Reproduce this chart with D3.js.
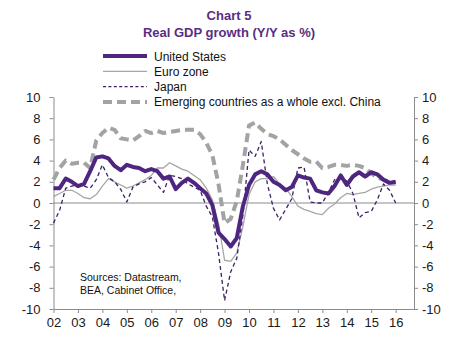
<!DOCTYPE html>
<html>
<head>
<meta charset="utf-8">
<script src="https://cdn.jsdelivr.net/npm/d3@7/dist/d3.min.js"></script>
<style>
  body { margin: 0; background: #fff; }
  svg { font-family: Arial, "Liberation Sans", sans-serif; }
</style>
</head>
<body>
<svg id="chart" width="476" height="352"></svg>
<script>
// year tick labels (quarterly data, 2002Q1 .. 2016Q1)
const yearLabels = ['02','03','04','05','06','07','08','09','10','11','12','13','14','15','16']
const yTicks = [-10,-8,-6,-4,-2,0,2,4,6,8,10]

// Y/Y real GDP growth, %, one value per quarter
const usGrowth = [
  1.4, 1.4, 2.3, 2.0,   1.6, 1.8, 3.0, 4.3,   4.4, 4.2, 3.5, 3.1,
  3.6, 3.4, 3.3, 3.0,   3.2, 3.0, 2.3, 2.5,   1.3, 1.9, 2.3, 1.9,
  1.4, 0.9, -0.2, -2.8, -3.4, -4.1, -3.3, -0.3, 1.7, 2.7, 3.0, 2.7,
  2.0, 1.7, 1.2, 1.5,   2.6, 2.4, 2.3, 1.2,   1.0, 0.9, 1.6, 2.6,
  1.7, 2.5, 2.9, 2.5,   2.9, 2.7, 2.2, 1.9,   2.0
]
const euroGrowth = [
  0.6, 0.9, 1.2, 1.2,   0.9, 0.5, 0.4, 0.8,   1.6, 2.3, 2.0, 1.7,
  1.4, 1.6, 1.9, 2.2,   2.6, 3.3, 3.3, 3.8,   3.5, 3.2, 3.0, 2.6,
  2.2, 1.4, 0.3, -1.9,  -5.4, -5.5, -4.7, -2.2, 0.8, 2.0, 2.3, 2.3,
  2.5, 1.8, 1.4, 0.6,   -0.3, -0.6, -0.8, -1.0, -1.1, -0.5, -0.1, 0.5,
  0.9, 0.8, 0.9, 1.0,   1.3, 1.5, 1.6, 1.7,   1.7
]
const japanGrowth = [
  -1.9, -0.7, 1.4, 1.6,  1.7, 1.6, 1.4, 2.2,   3.6, 2.4, 2.0, 1.3,
  0.1, 1.5, 1.8, 2.0,    2.4, 1.7, 1.0, 2.6,   2.5, 2.3, 1.8, 1.5,
  1.2, -0.3, -1.3, -4.7, -9.2, -6.5, -5.2, -1.2, 5.0, 4.4, 5.8, 1.8,
  -0.5, -1.6, -0.6, 0.4, 3.3, 3.4, 0.1, 0.0,   0.0, 1.0, 2.2, 2.3,
  2.1, 0.9, -1.4, -0.9,  -0.8, 0.3, 1.8, 1.2,  0.0
]
const emergingGrowth = [
  2.2, 3.3, 4.0, 3.7,   3.8, 3.8, 3.3, 5.9,   6.6, 7.1, 6.9, 6.1,
  6.0, 5.9, 6.3, 6.8,   6.6, 6.8, 6.6, 6.7,   6.8, 6.9, 6.9, 6.9,
  6.5, 5.7, 4.5, 1.8,   -1.9, -1.5, 0.2, 3.6,  7.3, 7.6, 7.0, 6.5,
  6.3, 6.0, 5.5, 5.0,   4.6, 4.2, 3.9, 3.9,   3.3, 3.4, 3.6, 3.6,
  3.5, 3.6, 3.5, 3.3,   2.8, 2.4, 2.2, 2.0,   1.9
]

const seriesNames = ['United States', 'Euro zone', 'Japan', 'Emerging countries as a whole excl. China']

const series = [
  {name: seriesNames[0], values: usGrowth,       color: '#4e2680', width: 4,   dash: 'none'},
  {name: seriesNames[1], values: euroGrowth,     color: '#a6a6a6', width: 1.3, dash: 'none'},
  {name: seriesNames[2], values: japanGrowth,    color: '#3d2068', width: 1.3, dash: '4,3'},
  {name: seriesNames[3], values: emergingGrowth, color: '#a3a3a3', width: 4,   dash: '9,5'}
]

const svg = d3.select('#chart')
const plotLeft = 53.5, plotRight = 414, plotTop = 97, plotBottom = 309

// 4 quarters per year, axis runs to the end of 2016
const xScale = d3.scaleLinear().domain([0, yearLabels.length * 4 - 1]).range([plotLeft, plotRight])
const yScale = d3.scaleLinear().domain([-10, 10]).range([plotBottom, plotTop])

// title
const title = svg.append('g')
    .style('font-weight', 'bold')
    .style('font-size', '13px')
    .attr('fill', '#5a2d82')
    .attr('text-anchor', 'middle')
title.append('text').attr('x', 229).attr('y', 20).text('Chart 5')
title.append('text').attr('x', 229).attr('y', 37).text('Real GDP growth (Y/Y as %)')

// zero line
svg.append('line')
    .attr('x1', plotLeft).attr('x2', plotRight)
    .attr('y1', yScale(0)).attr('y2', yScale(0))
    .attr('stroke', '#8c8c8c').attr('stroke-width', 1)

// axes
const styleAxis = g => {
    g.select('.domain').attr('stroke', '#8c8c8c')
    g.selectAll('.tick line').attr('stroke', '#8c8c8c')
    g.selectAll('.tick text').attr('fill', '#1a1a1a').style('font-size', '13px').style('font-family', 'Arial, "Liberation Sans", sans-serif')
}
// plain hyphen for negatives, as in the original
const plainNum = d => String(d)

svg.append('g')
    .attr('transform', `translate(${plotLeft},0)`)
    .call(d3.axisLeft(yScale).tickValues(yTicks).tickFormat(plainNum).tickSize(4).tickSizeOuter(0).tickPadding(9))
    .call(styleAxis)

svg.append('g')
    .attr('transform', `translate(${plotRight},0)`)
    .call(d3.axisRight(yScale).tickValues(yTicks).tickFormat(plainNum).tickSize(4).tickSizeOuter(0).tickPadding(4))
    .call(styleAxis)

svg.append('g')
    .attr('transform', `translate(0,${plotBottom})`)
    .call(d3.axisBottom(xScale)
        .tickValues(yearLabels.map((d, i) => i * 4))
        .tickFormat((d, i) => yearLabels[i])
        .tickSize(4).tickSizeOuter(0).tickPadding(5))
    .call(styleAxis)

// lines: draw grey ones first so the purple ones sit on top
const line = d3.line()
    .x((d, i) => xScale(i))
    .y(d => yScale(d))

const drawOrder = [series[3], series[1], series[2], series[0]]
svg.append('g')
    .selectAll('path')
    .data(drawOrder)
    .enter()
    .append('path')
        .attr('d', d => line(d.values))
        .attr('fill', 'none')
        .attr('stroke', d => d.color)
        .attr('stroke-width', d => d.width)
        .attr('stroke-dasharray', d => d.dash)
        .attr('stroke-linejoin', 'round')

// legend
const legend = svg.append('g')
    .selectAll('g')
    .data(series)
    .enter()
    .append('g')
        .attr('transform', (d, i) => `translate(103,${56 + i * 15.3})`)

legend.append('line')
    .attr('x1', 0).attr('x2', 44)
    .attr('stroke', d => d.color)
    .attr('stroke-width', d => d.width)
    .attr('stroke-dasharray', d => d.dash === 'none' ? 'none' : (d.width > 2 ? '9,5' : '3,2.4'))

legend.append('text')
    .attr('x', 51).attr('y', 4.5)
    .style('font-size', '12px')
    .attr('fill', '#111')
    .text(d => d.name)

// sources note
const note = svg.append('g').style('font-size', '10.5px').attr('fill', '#111')
note.append('text').attr('x', 80).attr('y', 281).text('Sources: Datastream,')
note.append('text').attr('x', 80).attr('y', 294).text('BEA, Cabinet Office,')
</script>
</body>
</html>
